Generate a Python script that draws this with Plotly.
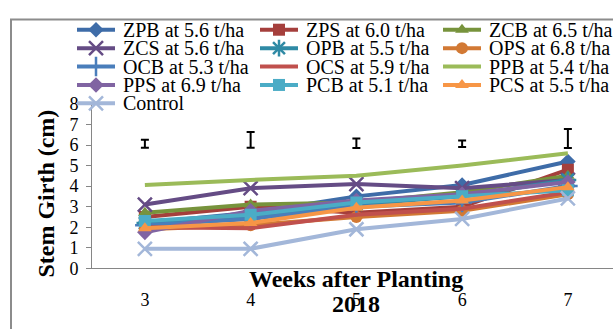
import plotly.graph_objects as go

# Weeks after planting and stem girth (cm) for each treatment
weeks = [3, 4, 5, 6, 7]
week_labels = ["3", "4", "5", "6", "7"]

names = [
    "ZPB at 5.6 t/ha", "ZPS at 6.0 t/ha", "ZCB at 6.5 t/ha",
    "ZCS at 5.6 t/ha", "OPB at 5.5 t/ha", "OPS at 6.8 t/ha",
    "OCB at 5.3 t/ha", "OCS at 5.9 t/ha", "PPB at 5.4 t/ha",
    "PPS at 6.9 t/ha", "PCB at 5.1 t/ha", "PCS at 5.5 t/ha",
    "Control",
]

zpb = [2.2, 2.7, 3.5, 4.05, 5.2]
zps = [2.5, 3.0, 2.7, 3.0, 4.8]
zcb = [2.7, 3.1, 3.2, 3.7, 4.5]
zcs = [3.1, 3.9, 4.1, 3.9, 4.3]
opb = [2.2, 2.5, 3.1, 3.5, 4.3]
ops = [1.9, 2.1, 2.5, 2.8, 3.6]
ocb = [2.1, 2.4, 3.0, 3.2, 4.0]
ocs = [2.0, 1.95, 2.6, 2.9, 3.7]
ppb = [4.05, 4.3, 4.5, 5.0, 5.6]
pps = [1.75, 2.8, 3.3, 3.6, 4.2]
pcb = [2.3, 2.6, 3.2, 3.5, 3.8]
pcs = [1.95, 2.2, 2.95, 3.3, 3.95]
control = [0.95, 0.95, 1.9, 2.4, 3.4]

series = [zpb, zps, zcb, zcs, opb, ops, ocb, ocs, ppb, pps, pcb, pcs, control]

# LSD bars drawn above the lines
lsd_center = [6.06, 6.25, 6.09, 6.06, 6.32]
lsd_half = [0.19, 0.38, 0.23, 0.16, 0.46]

colors = [
    "#3E6CA8", "#A53F3C", "#77933C", "#654C85", "#2F8AA5", "#D27934",
    "#4A7EBB", "#C0504D", "#9BBB59", "#8064A2", "#4BACC6", "#F79646",
    "#A3B7D9",
]
symbols = [
    "diamond", "square", "triangle-up", "x-thin", "asterisk", "circle",
    "cross-thin", None, None, "diamond", "square", "triangle-up", "x-thin",
]
line_symbols = {"x-thin", "asterisk", "cross-thin"}

W, H = 613, 329
L, T, B = 92, 100, 275          # plot box in pixels
STEP = 105.75                   # pixels per week
serif = "Liberation Serif"

fig = go.Figure()


def marker_style(sym, col, size):
    if sym is None:
        return dict(size=0, opacity=0)
    if sym in line_symbols:
        return dict(symbol=sym, size=size + 2, color=col,
                    line=dict(color=col, width=2.5))
    return dict(symbol=sym, size=size, color=col, line=dict(width=0))


for name, ys, col, sym in zip(names, series, colors, symbols):
    fig.add_trace(go.Scatter(
        x=weeks, y=ys, name=name, mode="lines+markers",
        line=dict(color=col, width=4),
        marker=marker_style(sym, col, 12),
        xaxis="x", yaxis="y", showlegend=False,
    ))

fig.add_trace(go.Scatter(
    x=weeks, y=lsd_center, mode="markers",
    marker=dict(size=1, opacity=0),
    error_y=dict(type="data", array=lsd_half, visible=True,
                 color="black", thickness=2, width=4),
    xaxis="x", yaxis="y", showlegend=False,
))

# Legend: three columns of sample line + marker + label
annotations = []
for i, (name, col, sym) in enumerate(zip(names, colors, symbols)):
    c, r = i % 3, i // 3
    x0 = 77 + 183 * c
    y0 = 21 + 19.6 * r
    fig.add_trace(go.Scatter(
        x=[x0, x0 + 19, x0 + 38], y=[y0, y0, y0], mode="lines",
        line=dict(color=col, width=4), xaxis="x2", yaxis="y2",
        showlegend=False, hoverinfo="skip",
    ))
    if sym is not None:
        fig.add_trace(go.Scatter(
            x=[x0 + 19], y=[y0], mode="markers",
            marker=marker_style(sym, col, 12), xaxis="x2", yaxis="y2",
            showlegend=False, hoverinfo="skip",
        ))
    annotations.append(dict(
        x=x0 + 44, y=y0, xref="x2", yref="y2", text=name,
        showarrow=False, xanchor="left", yanchor="middle",
        font=dict(family=serif, size=20, color="black"),
    ))

annotations += [
    dict(x=46.5 / W, y=1 - 196 / H, xref="paper", yref="paper",
         xanchor="center", yanchor="middle",
         text="<b>Stem Girth (cm)</b>", textangle=-90, showarrow=False,
         font=dict(family=serif, size=24, color="black")),
    dict(x=356 / W, y=1 - 286 / H, xref="paper", yref="paper",
         xanchor="center", yanchor="middle",
         text="<b>Weeks after Planting</b>", showarrow=False,
         font=dict(family=serif, size=24, color="black")),
    dict(x=356 / W, y=1 - 313 / H, xref="paper", yref="paper",
         xanchor="center", yanchor="middle",
         text="<b>2018</b>", showarrow=False,
         font=dict(family=serif, size=24, color="black")),
]

axis_grey = "#868686"
fig.update_layout(
    width=W, height=H,
    margin=dict(l=0, r=0, t=0, b=0),
    paper_bgcolor="white", plot_bgcolor="rgba(0,0,0,0)",
    xaxis=dict(
        domain=[L / W, 1], range=[2.5, 2.5 + (W - L) / STEP],
        tickvals=weeks, ticktext=week_labels, ticks="",
        showline=True, linecolor=axis_grey, linewidth=1,
        showgrid=False, zeroline=False, ticklabelstandoff=15,
        tickfont=dict(family=serif, size=18, color="black"),
        anchor="y",
    ),
    yaxis=dict(
        domain=[1 - B / H, 1 - T / H], range=[0, 8], dtick=1,
        ticks="outside", ticklen=5, tickcolor=axis_grey,
        showline=True, linecolor=axis_grey, linewidth=1,
        showgrid=False, zeroline=False, ticklabelstandoff=4,
        tickfont=dict(family=serif, size=18, color="black"),
        anchor="x",
    ),
    xaxis2=dict(domain=[0, 1], range=[0, W], visible=False, anchor="y2"),
    yaxis2=dict(domain=[0, 1], range=[H, 0], visible=False, anchor="x2"),
    annotations=annotations,
    shapes=[dict(type="rect", xref="paper", yref="paper",
                 x0=11 / W, x1=1.05, y0=-0.05, y1=1 - 10 / H,
                 line=dict(color="#8C8C8C", width=2), layer="below")],
    showlegend=False,
)

fig.write_html("out.html")
